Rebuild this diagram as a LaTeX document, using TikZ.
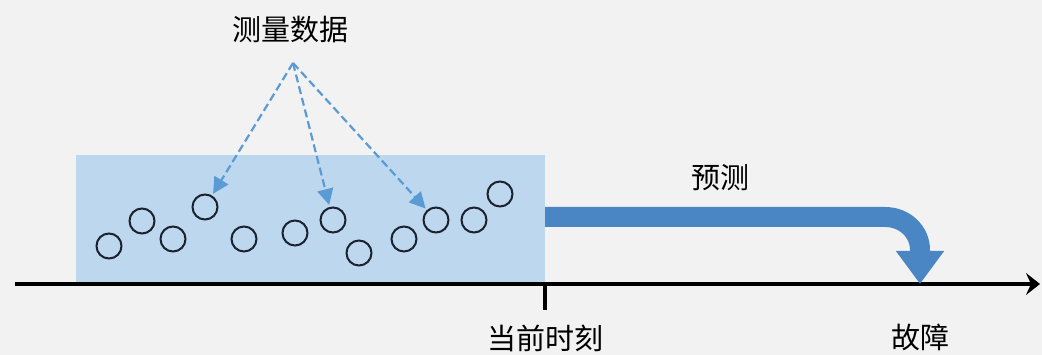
\documentclass[tikz,border=0pt]{standalone}
\usepackage{fontspec}
\newfontfamily\cjk{Noto Sans CJK SC}
\usetikzlibrary{arrows.meta}
\definecolor{bg}{HTML}{F2F2F2}
\definecolor{boxblue}{HTML}{BDD7EE}
\definecolor{dashblue}{HTML}{5B9BD5}
\definecolor{bandblue}{HTML}{4A86C3}
\definecolor{ringcol}{HTML}{1A2230}
\begin{document}
\begin{tikzpicture}[x=1pt,y=-1pt,
  ring/.style={circle,draw=ringcol,line width=2pt,minimum size=25pt,inner sep=0pt},
  lbl/.style={font=\cjk\fontsize{29}{29}\selectfont,inner sep=0pt},
  datarrow/.style={draw=dashblue,line width=2.2pt,dash pattern=on 8pt off 4pt,shorten >=2pt,-{Triangle[length=16pt,width=16pt]}},
  band/.style={draw=bandblue,line width=20pt,-{Triangle[length=33pt,width=46pt]}}
]
\fill[bg] (0,0) rectangle (1042,355);
\useasboundingbox (0,0) rectangle (1042,355);
\node[fill=boxblue,minimum width=469pt,minimum height=128pt,inner sep=0pt,anchor=north west] (box) at (76,155) {};
\coordinate (ax0) at (15,284);
\coordinate (ax1) at (1040,284);
\draw[line width=3.2pt,-{Stealth[length=14pt,width=22pt,inset=5pt]}] (ax0) -- (ax1);
\coordinate (t0) at (545,284);
\coordinate (t1) at (545,310);
\draw[line width=3.2pt] (t0) -- (t1);
\node[ring] (c1) at (109,246) {};
\node[ring] (c2) at (142,221) {};
\node[ring] (c3) at (173,239) {};
\node[ring] (c4) at (205,207) {};
\node[ring] (c5) at (244,239) {};
\node[ring] (c6) at (295,233) {};
\node[ring] (c7) at (333,220) {};
\node[ring] (c8) at (359,253) {};
\node[ring] (c9) at (404,239) {};
\node[ring] (c10) at (436,220) {};
\node[ring] (c11) at (474,220) {};
\node[ring] (c12) at (500,194) {};
\node[lbl] (meas) at (290,30) {测量数据};
\coordinate (src) at (293,63);
\draw[datarrow] (src) -- (c4);
\draw[datarrow] (src) -- (c7);
\draw[datarrow] (src) -- (c10);
\coordinate (b0) at (545,217);
\coordinate (b1) at (885,217);
\coordinate (b2) at (920,250);
\coordinate (b3) at (920,284);
\draw[band] (b0) -- (b1) .. controls (905,217) and (920,232) .. (b2) -- (b3);
\node[lbl] (pred) at (720,178) {预测};
\node[lbl] (now) at (545,338) {当前时刻};
\node[lbl] (fault) at (920,337) {故障};
\end{tikzpicture}
\end{document}
